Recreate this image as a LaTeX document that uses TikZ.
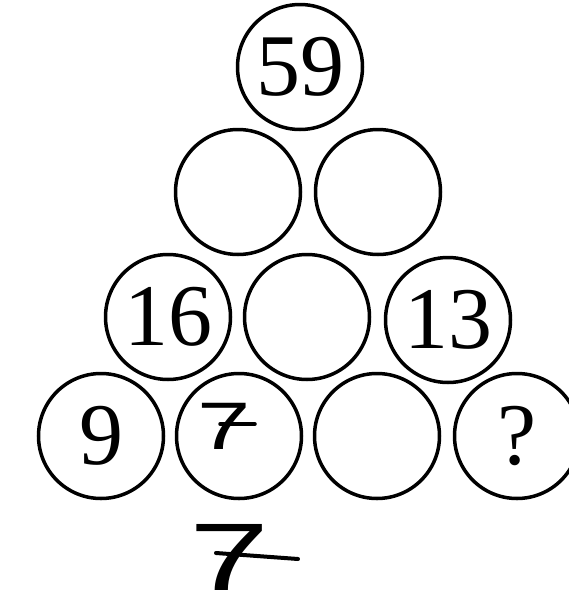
\documentclass[tikz,border=0pt]{standalone}
\usepackage{fontspec}
\setmainfont{Liberation Serif}
\newfontfamily\handfont{Liberation Sans}
\begin{document}
\begin{tikzpicture}[x=1pt,y=-1pt,
  ball/.style={circle,draw,line width=3.5pt,minimum size=125pt,inner sep=0pt,
    font=\fontsize{88}{88}\selectfont},
  handsmall/.style={inner sep=0pt,font=\handfont\fontsize{64}{64}\selectfont},
  handbig/.style={inner sep=0pt,font=\handfont\fontsize{96}{96}\selectfont},
  bar/.style={line width=4pt,line cap=round}]
\useasboundingbox[fill=white] (0,0) rectangle (568,616);
% top
\node[ball] (t) at (300,67) {59};
% row 2
\node[ball] (r2a) at (238,192) {};
\node[ball] (r2b) at (378,192) {};
% row 3
\node[ball] (r3a) at (168,317) {16};
\node[ball] (r3b) at (307,317) {};
\node[ball] (r3c) at (448,320) {13};
% row 4
\node[ball] (r4a) at (101,436) {9};
\node[ball] (r4b) at (239,436) {};
\node[ball] (r4c) at (377,436) {};
\node[ball] (r4d) at (517,436) {?};
% handwritten answers
\node[handsmall] (s7) at (224,426) {\scalebox{1.5}[1.05]{7}};
\draw[bar,line width=3.5pt] ([xshift=-4pt,yshift=2pt]s7.center) -- ([xshift=31pt,yshift=2pt]s7.center);
\node[handbig] (b7) at (230,557) {\scalebox{1.5}[1]{7}};
\draw[bar] ([xshift=-14pt,yshift=4pt]b7.center) -- ([xshift=68pt,yshift=-2pt]b7.center);
\end{tikzpicture}
\end{document}
